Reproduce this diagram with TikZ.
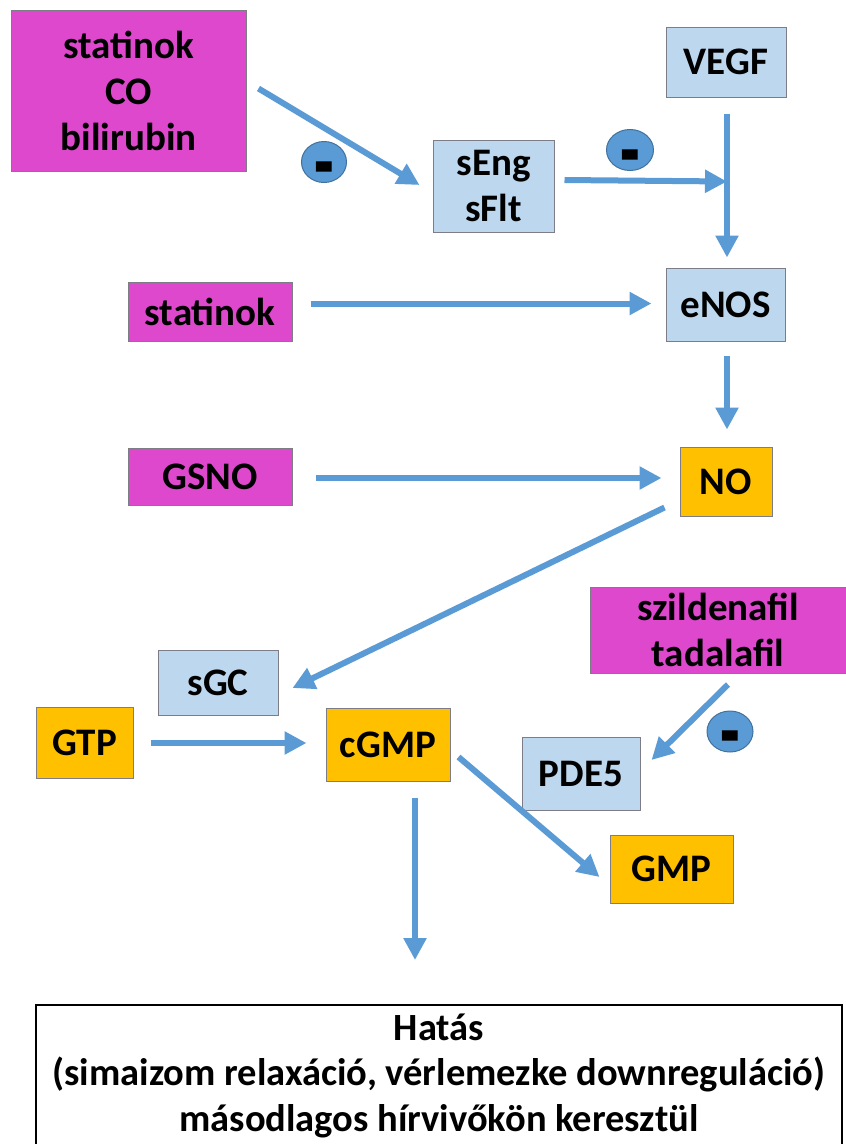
\documentclass[tikz,border=0pt]{standalone}
\usepackage{fontspec}
\setmainfont{Carlito}
\usetikzlibrary{arrows.meta,calc,shapes.geometric}
\definecolor{mag}{RGB}{222,72,204}
\definecolor{lblue}{RGB}{189,215,238}
\definecolor{orng}{RGB}{255,192,0}
\definecolor{arr}{RGB}{91,155,213}
\definecolor{arrdark}{RGB}{65,113,156}
\definecolor{bord}{RGB}{125,125,135}
\newcommand{\minusbar}{\smash{\raisebox{-33pt}{\scalebox{1.6}[2.5]{-}}}}
\tikzset{
  box/.style={draw=bord, line width=1pt, inner sep=0pt, align=center,
    font=\fontsize{39}{46}\selectfont\bfseries},
  magbox/.style={box, fill=mag},
  bluebox/.style={box, fill=lblue},
  orbox/.style={box, fill=orng},
  conn/.style={draw=arr, line width=6pt, -{Triangle[length=22pt,width=22pt]}},
  minus/.style={ellipse, fill=arr, draw=arrdark, line width=1pt, inner sep=0pt,
    font=\fontsize{40}{40}\selectfont\bfseries}
}
\begin{document}
\begin{tikzpicture}[x=1pt,y=-1pt]
\useasboundingbox (0,0) rectangle (846,1144);
\fill[white] (0,0) rectangle (846,1144);
% nodes
\node[magbox, minimum width=235pt, minimum height=161pt] (top) at (128.5,90.5) {statinok\\CO\\bilirubin};
\node[bluebox, minimum width=120pt, minimum height=70pt] (vegf) at (726,62) {VEGF};
\node[bluebox, minimum width=121pt, minimum height=92pt] (seng) at (493.5,186) {sEng\\sFlt};
\node[magbox, minimum width=164pt, minimum height=59pt] (stat) at (210,311.5) {statinok};
\node[bluebox, minimum width=119pt, minimum height=73pt] (enos) at (725.5,304.5) {eNOS};
\node[magbox, minimum width=164pt, minimum height=57pt] (gsno) at (210,476.5) {GSNO};
\node[orbox, minimum width=92pt, minimum height=69pt] (no) at (726,481.5) {NO};
\node[magbox, minimum width=256pt, minimum height=86pt] (szil) at (718,630) {szildenafil\\tadalafil};
\node[bluebox, minimum width=120pt, minimum height=65pt] (sgc) at (218,682.5) {sGC};
\node[orbox, minimum width=97pt, minimum height=71pt] (gtp) at (84.5,742.5) {GTP};
\node[orbox, minimum width=124pt, minimum height=73pt] (cgmp) at (388,744.5) {cGMP};
\node[bluebox, minimum width=118pt, minimum height=73pt] (pde) at (581,773.5) {PDE5};
\node[orbox, minimum width=123pt, minimum height=68pt] (gmp) at (671.5,869) {GMP};
\node[box, draw=black, line width=1.5pt, fill=white, minimum width=806pt, minimum height=150pt, anchor=north] (hatas) at (439,1004) {};
\node[font=\fontsize{38.5}{45.5}\selectfont\bfseries, align=center, anchor=north] (hatastext) at (439,1010) {Hatás\\(simaizom relaxáció, vérlemezke downreguláció)\\másodlagos hírvivőkön keresztül};
% minus signs
\node[minus, minimum width=45pt, minimum height=41pt] (m1) at (324,162) {\minusbar};
\node[minus, minimum width=47pt, minimum height=41pt] (m2) at (630,150) {\minusbar};
\node[minus, minimum width=46pt, minimum height=41pt] (m3) at (730,731.5) {\minusbar};
% junction on VEGF line
\coordinate (junc) at ($(vegf.south)+(1,84)$);
% connectors
\draw[conn] ($(top.east)+(12,-2)$) -- ($(seng.west)+(-13,-1)$);
\draw[conn] ($(seng.east)+(10,-6)$) -- (junc);
\draw[conn] ($(vegf.south)+(1,16)$) -- ($(enos.north)+(1.5,-10)$);
\draw[conn] ($(stat.east)+(18,-8)$) -- ($(enos.west)+(-14,-1)$);
\draw[conn] ($(enos.south)+(1.5,14)$) -- ($(no.north)+(1,-17)$);
\draw[conn] ($(gsno.east)+(23,1.5)$) -- ($(no.west)+(-18,-3.5)$);
\draw[conn] ($(no.south west)+(-15,-9)$) -- ($(sgc.east)+(14,5.5)$);
\draw[conn] ($(gtp.east)+(17,0.5)$) -- ($(cgmp.west)+(-19,-1.5)$);
\draw[conn] ($(szil.south)+(10,11)$) -- ($(pde.east)+(11,-13.5)$);
\draw[conn] ($(cgmp.east)+(8,12.5)$) -- ($(gmp.west)+(-10,8)$);
\draw[conn] ($(cgmp.south)+(27,16)$) -- ($(hatas.north)+(-24,-44)$);
\end{tikzpicture}
\end{document}
